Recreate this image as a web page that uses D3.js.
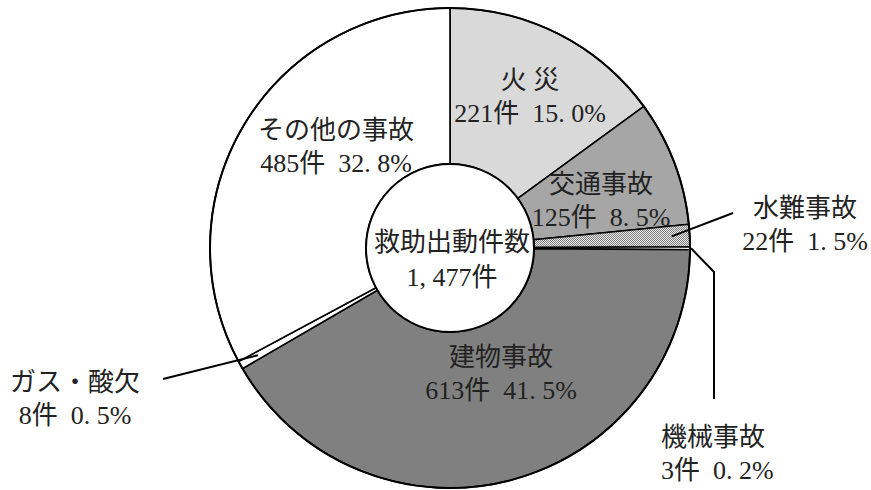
<!DOCTYPE html>
<html lang="ja">
<head>
    <meta charset="UTF-8">
    <title>救助出動件数</title>
    <script src="https://cdn.jsdelivr.net/npm/d3@7/dist/d3.min.js"></script>
    <style>
        body { margin: 0; background: #fff; }
        text { font-family: "Liberation Serif", "Noto Sans CJK JP", serif; fill: #222; }
    </style>
</head>
<body>
    <div id="chart"></div>

    <script>
        const width = 871;
        const height = 490;

        // data (clockwise from the top)
        const categories = ["火 災", "交通事故", "水難事故", "機械事故", "建物事故", "ガス・酸欠", "その他の事故"];
        const counts = [221, 125, 22, 3, 613, 8, 485];
        const percents = ["15. 0", "8. 5", "1. 5", "0. 2", "41. 5", "0. 5", "32. 8"];
        const totalLabel = ["救助出動件数", "1, 477件"];

        const fills = ["#d9d9d9", "#a6a6a6", "url(#dots)", "#ffffff", "#808080", "#ffffff", "#ffffff"];

        // label layout: [x, y of first line, anchor]
        const labelPos = [
            [530, 89, "middle"],
            [601, 193, "middle"],
            [805, 217, "middle"],
            [661, 446, "start"],
            [501, 366, "middle"],
            [75, 391, "middle"],
            [336, 139, "middle"]
        ];
        const lineGap = 33;
        const fontSize = 26;

        const cx = 450, cy = 248;
        const outerR = 240, innerR = 84;

        const svg = d3.select("#chart")
            .append("svg")
            .attr("width", width)
            .attr("height", height);

        // checker pattern for 水難事故
        const pat = svg.append("defs").append("pattern")
            .attr("id", "dots")
            .attr("width", 2)
            .attr("height", 2)
            .attr("patternUnits", "userSpaceOnUse");
        pat.append("rect").attr("width", 2).attr("height", 2).attr("fill", "#eeeeee");
        pat.append("rect").attr("width", 1).attr("height", 1).attr("fill", "#7a7a7a");
        pat.append("rect").attr("x", 1).attr("y", 1).attr("width", 1).attr("height", 1).attr("fill", "#7a7a7a");

        const g = svg.append("g").attr("transform", `translate(${cx},${cy})`);

        const pie = d3.pie().sort(null).value(d => d);
        const arcs = pie(counts);

        const arc = d3.arc().innerRadius(innerR).outerRadius(outerR);

        g.selectAll("path.slice")
            .data(arcs)
            .enter()
            .append("path")
            .attr("class", "slice")
            .attr("d", arc)
            .attr("fill", (d, i) => fills[i])
            .attr("stroke", "#000")
            .attr("stroke-width", 1.6)
            .attr("stroke-linejoin", "miter");

        // outer ring and center circle
        g.append("circle").attr("r", outerR).attr("fill", "none").attr("stroke", "#000").attr("stroke-width", 2);
        g.append("circle").attr("r", innerR).attr("fill", "#fff").attr("stroke", "#000").attr("stroke-width", 2);

        const pt = (a, r) => [cx + r * Math.sin(a), cy - r * Math.cos(a)];
        const mid = d => (d.startAngle + d.endAngle) / 2;

        // leader lines
        const leaders = [
            [pt(mid(arcs[2]), 222), [733, 213]],
            [pt(mid(arcs[3]), 241), [714, 272], [714, 399]],
            [pt(mid(arcs[5]), 220), [163, 379]]
        ];
        svg.selectAll("path.leader")
            .data(leaders)
            .enter()
            .append("path")
            .attr("class", "leader")
            .attr("d", d3.line())
            .attr("fill", "none")
            .attr("stroke", "#000")
            .attr("stroke-width", 2);

        // slice labels
        const labels = svg.selectAll("text.lbl")
            .data(categories)
            .enter()
            .append("text")
            .attr("class", "lbl")
            .attr("font-size", fontSize)
            .attr("text-anchor", (d, i) => labelPos[i][2]);

        labels.append("tspan")
            .attr("x", (d, i) => labelPos[i][0])
            .attr("y", (d, i) => labelPos[i][1])
            .text(d => d);

        labels.append("tspan")
            .attr("x", (d, i) => labelPos[i][0])
            .attr("y", (d, i) => labelPos[i][1] + lineGap)
            .text((d, i) => `${counts[i]}件\u2002${percents[i]}%`);

        // total in the middle
        svg.append("text")
            .attr("font-size", fontSize)
            .attr("text-anchor", "middle")
            .selectAll("tspan")
            .data(totalLabel)
            .enter()
            .append("tspan")
            .attr("x", cx + 2)
            .attr("y", (d, i) => 251 + i * 35)
            .text(d => d);
    </script>
</body>
</html>
